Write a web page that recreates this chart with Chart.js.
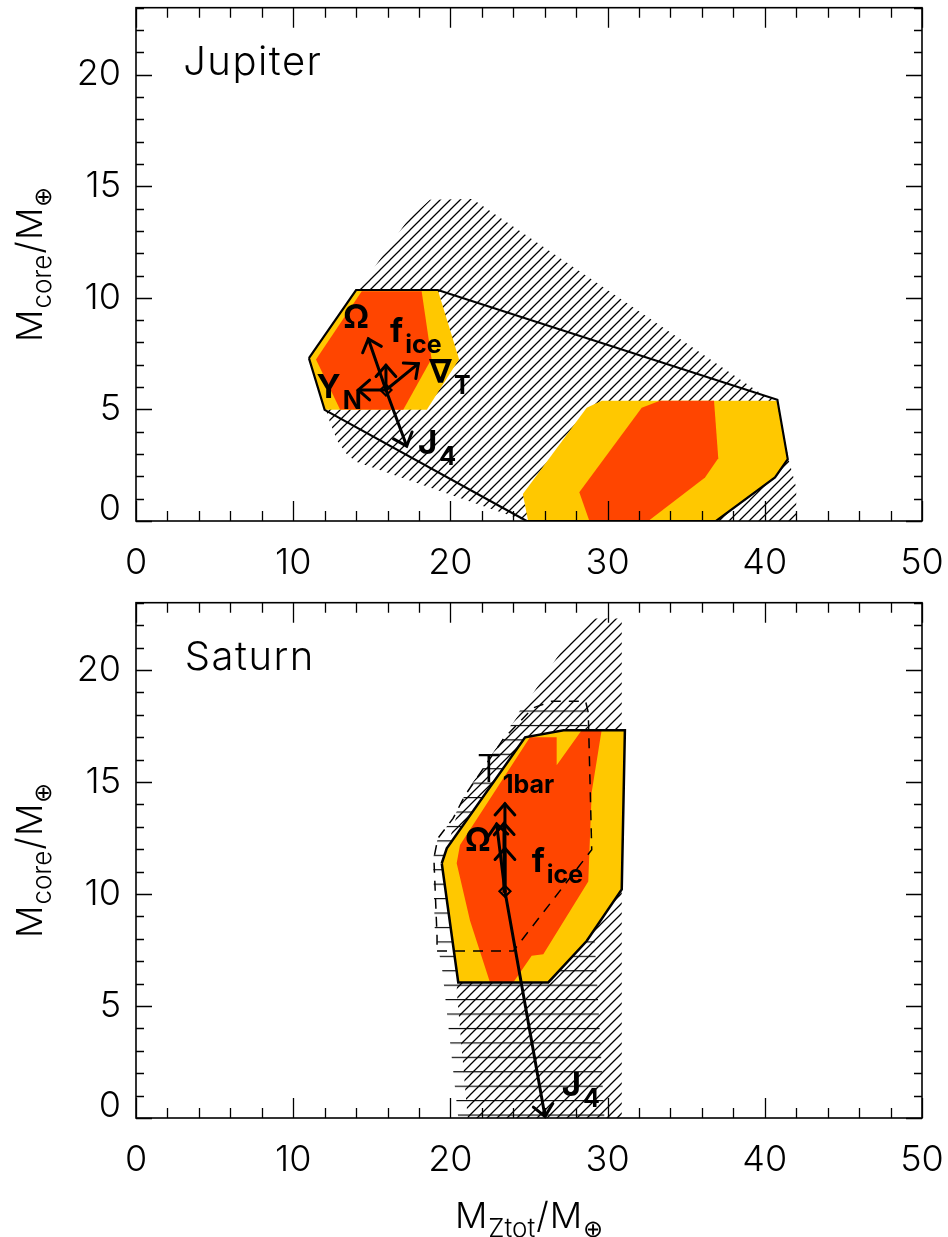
<!DOCTYPE html>
<html>
<head>
<meta charset="utf-8">
<script src="https://cdn.jsdelivr.net/npm/chart.js@4.4.1/dist/chart.umd.min.js"></script>
<style>
  html, body { margin: 0; padding: 0; background: #fff; }
  #wrap { position: relative; width: 948px; height: 1237px; overflow: hidden; }
  #jup { position: absolute; left: 0; top: 0; }
  #sat { position: absolute; left: 0; top: 595px; }
</style>
</head>
<body>
<div id="wrap">
  <canvas id="jup" width="948" height="595"></canvas>
  <canvas id="sat" width="948" height="642"></canvas>
</div>
<script>
// ---- axes ----
const xTicks = [0, 10, 20, 30, 40, 50];
const yTicks = [0, 5, 10, 15, 20];
const xRange = [0, 50];
const yRange = [0, 23];
const xMinorStep = 2;
const yMinorStep = 1;

// ---- Jupiter: allowed regions in (M_Ztot, M_core) ----
const jupHatch = [[11.0,7.3],[14.0,10.35],[14.9,11.1],[17.3,13.5],[18.7,14.4],[21.4,14.43],[39.9,5.65],[40.8,5.43],[41.5,2.8],[42.0,1.5],[42.0,0],[24.8,0],[14.0,2.65],[13.4,3.0],[12.8,3.6],[12.3,4.5],[11.0,7.3]];
const jupOutline = [[11.0,7.3],[14.0,10.35],[19.2,10.35],[40.8,5.43],[41.46,2.77],[40.65,1.95],[36.9,0],[24.85,0],[12.0,4.98],[11.0,7.3]];
const jupYellowLeft = [[11.0,7.3],[14.0,10.35],[19.2,10.35],[20.55,7.25],[18.5,4.98],[12.0,4.98],[11.0,7.3]];
const jupRedLeft = [[11.45,7.24],[14.36,10.3],[18.17,10.3],[18.8,7.27],[17.0,4.98],[12.98,5.0],[11.45,7.24]];
const jupYellowRight = [[24.94,0],[24.61,1.21],[28.67,5.08],[29.63,5.39],[40.76,5.39],[41.46,2.77],[40.65,1.95],[36.94,0],[24.94,0]];
const jupRedRight = [[28.84,0],[28.2,1.29],[32.17,5.08],[33.33,5.39],[36.77,5.39],[37.04,2.81],[36.2,1.95],[32.59,0],[28.84,0]];
const jupOrigin = [15.9, 5.87];
const jupArrowTips = [[14.78,8.16],[15.9,6.98],[17.96,7.05],[14.14,5.87],[17.22,3.36]];

// ---- Saturn ----
const satHatchDiag = [[25.3,19.0],[27.3,21.1],[29.1,22.3],[30.9,22.3],[30.9,0],[21.1,0],[20.4,5.7],[20.5,6.5],[19.5,11.4],[19.8,12.1],[20.72,14.25],[23.16,16.77],[25.3,19.0]];
const satHatchHoriz = [[24.6,18.4],[28.7,18.4],[28.8,12.0],[29.3,6.5],[29.8,0],[20.5,0],[19.5,6.5],[19.0,8.5],[18.9,11.6],[19.2,12.5],[20.2,13.4],[20.9,14.4],[23.3,16.9],[24.6,18.4]];
const satOutline = [[19.45,11.37],[19.77,12.04],[24.75,16.99],[27.2,17.31],[31.1,17.31],[30.9,10.2],[28.67,7.9],[26.23,6.05],[20.5,6.05],[19.45,11.37]];
const satRed = [[22.52,6.05],[24.0,6.05],[25.17,7.24],[25.91,7.31],[28.77,10.56],[28.99,14.55],[29.62,17.31],[28.35,17.31],[26.76,15.74],[26.76,16.99],[25.06,16.99],[20.61,12.19],[20.4,11.37],[21.25,8.8],[22.52,6.05]];
const satDashed = [[19.15,7.45],[24.0,7.45],[28.99,11.97],[28.77,18.1],[28.6,18.6],[26.44,18.6],[25.25,18.3],[23.35,16.9],[20.93,14.4],[20.17,13.37],[19.2,12.48],[18.95,11.6],[19.15,8.1],[19.15,7.45]];
const satOrigin = [23.47, 10.12];
const satArrowTips = [[23.47,14.03],[22.94,13.12],[23.41,13.15],[23.47,12.04],[26.02,0.07]];

// ---- styling ----
const FONT = "Inter, 'DejaVu Sans', sans-serif";
const YELLOW = '#FFC800';
const RED = '#FF4500';

function pts(arr) { return arr.map(([x, y]) => ({ x, y })); }

function diagPattern() {
  const s = 10;
  const c = document.createElement('canvas');
  c.width = s; c.height = s;
  const g = c.getContext('2d');
  g.strokeStyle = '#000'; g.lineWidth = 1.25;
  g.beginPath();
  g.moveTo(0, s); g.lineTo(s, 0);
  g.moveTo(-1, 1); g.lineTo(1, -1);
  g.moveTo(s - 1, s + 1); g.lineTo(s + 1, s - 1);
  g.stroke();
  return g.createPattern(c, 'repeat');
}
function horizPattern() {
  const c = document.createElement('canvas');
  c.width = 8; c.height = 15;
  const g = c.getContext('2d');
  g.fillStyle = '#000';
  g.fillRect(0, 7, 8, 1.2);
  const p = g.createPattern(c, 'repeat');
  p.setTransform(new DOMMatrix([1, 0, 0, 14.43 / 15, 0, 7.7]));
  return p;
}

function polyDs(arr, opts) {
  return Object.assign({
    data: pts(arr), fill: 'shape', borderWidth: 0, borderColor: 'rgba(0,0,0,0)',
    pointRadius: 0, tension: 0
  }, opts);
}
function lineDs(arr, opts) {
  return Object.assign({
    data: pts(arr), fill: false, borderColor: '#000', backgroundColor: 'rgba(0,0,0,0)',
    pointRadius: 0, tension: 0
  }, opts);
}
function arrowSets(origin, tips) {
  return tips.map(t => lineDs([origin, t], { borderWidth: 3, arrow: true, order: 3, borderCapStyle: 'round' }));
}
function markerDs(origin) {
  return {
    data: pts([origin]), showLine: false, pointStyle: 'rectRot', pointRadius: 5.5,
    pointBorderWidth: 2.2, pointBorderColor: '#000', pointBackgroundColor: 'rgba(0,0,0,0)', order: 1
  };
}

// inward tick marks and the frame
const frameTicks = {
  id: 'frameTicks',
  afterDatasetsDraw(chart) {
    const { ctx, chartArea: { left, right, top, bottom }, scales: { x, y } } = chart;
    ctx.save();
    ctx.strokeStyle = '#000';
    ctx.lineWidth = 1.3;
    ctx.beginPath();
    for (let v = xRange[0]; v <= xRange[1] + 1e-9; v += xMinorStep) {
      const px = Math.round(x.getPixelForValue(v)) + 0.5;
      const len = xTicks.includes(v) ? 20 : 10;
      ctx.moveTo(px, bottom); ctx.lineTo(px, bottom - len);
      ctx.moveTo(px, top); ctx.lineTo(px, top + len);
    }
    for (let v = yRange[0]; v <= yRange[1] + 1e-9; v += yMinorStep) {
      const py = Math.round(y.getPixelForValue(v)) + 0.5;
      const len = yTicks.includes(v) ? 16 : 8;
      ctx.moveTo(left, py); ctx.lineTo(left + len, py);
      ctx.moveTo(right, py); ctx.lineTo(right - len, py);
    }
    ctx.stroke();
    ctx.lineWidth = 1.6;
    ctx.strokeRect(left, top, right - left, bottom - top);
    ctx.restore();
  }
};

// open chevron heads on arrow datasets
const arrowHeads = {
  id: 'arrowHeads',
  afterDatasetsDraw(chart) {
    const ctx = chart.ctx;
    chart.data.datasets.forEach((ds, i) => {
      if (!ds.arrow) return;
      const p = chart.getDatasetMeta(i).data;
      const a = p[0], b = p[p.length - 1];
      const ang = Math.atan2(b.y - a.y, b.x - a.x);
      const L = 15, spread = 0.72;
      ctx.save();
      ctx.strokeStyle = '#000'; ctx.lineWidth = 3; ctx.lineCap = 'round'; ctx.lineJoin = 'miter';
      ctx.beginPath();
      ctx.moveTo(b.x - L * Math.cos(ang - spread), b.y - L * Math.sin(ang - spread));
      ctx.lineTo(b.x, b.y);
      ctx.lineTo(b.x - L * Math.cos(ang + spread), b.y - L * Math.sin(ang + spread));
      ctx.stroke();
      ctx.restore();
    });
  }
};

// planet name and parameter labels
const annot = {
  id: 'annot',
  afterDatasetsDraw(chart, args, opts) {
    const { ctx, scales: { x, y } } = chart;
    ctx.save();
    ctx.fillStyle = '#000';
    ctx.textBaseline = 'alphabetic';
    ctx.textAlign = 'left';
    if (opts.name) {
      ctx.font = `300 40px ${FONT}`;
      ctx.letterSpacing = '1.5px';
      ctx.fillText(opts.name.text, x.getPixelForValue(opts.name.x), y.getPixelForValue(opts.name.y));
      ctx.letterSpacing = '0px';
    }
    for (const it of (opts.items || [])) {
      const px = x.getPixelForValue(it.x), py = y.getPixelForValue(it.y);
      ctx.font = it.light ? `300 38px ${FONT}` : `bold 33px ${FONT}`;
      ctx.fillText(it.main, px, py);
      if (it.sub) {
        const w = ctx.measureText(it.main).width;
        ctx.font = `bold 25px ${FONT}`;
        ctx.fillText(it.sub, px + w + 2, py + 11);
      }
    }
    ctx.restore();
  }
};

// axis titles with subscripts
function drawRuns(ctx, runs) {
  let total = 0;
  for (const r of runs) { ctx.font = r.f; r.w = ctx.measureText(r.t).width; total += r.w + (r.gap || 0); }
  let u = -total / 2;
  for (const r of runs) { ctx.font = r.f; ctx.fillText(r.t, u, r.dy); u += r.w + (r.gap || 0); }
}
function titleRuns(sub) {
  return [
    { t: 'M', f: `300 36px ${FONT}`, dy: 0, gap: 1 },
    { t: sub, f: `300 26px ${FONT}`, dy: 9, gap: 1 },
    { t: '/', f: `300 36px ${FONT}`, dy: 0, gap: 1 },
    { t: 'M', f: `300 36px ${FONT}`, dy: 0, gap: 1 },
    { t: '\u2295', f: `300 24px 'DejaVu Sans', sans-serif`, dy: 9 }
  ];
}
const axisTitles = {
  id: 'axisTitles',
  afterDraw(chart, args, opts) {
    const { ctx, chartArea: { left, right, top, bottom } } = chart;
    ctx.save();
    ctx.fillStyle = '#000';
    ctx.textBaseline = 'alphabetic';
    ctx.textAlign = 'left';
    ctx.save();
    ctx.translate(opts.yTitleX, (top + bottom) / 2);
    ctx.rotate(-Math.PI / 2);
    drawRuns(ctx, titleRuns('core'));
    ctx.restore();
    if (opts.xTitle) {
      ctx.save();
      ctx.translate((left + right) / 2, bottom + opts.xTitleDrop);
      drawRuns(ctx, titleRuns('Ztot'));
      ctx.restore();
    }
    ctx.restore();
  }
};

function makeChart(id, datasets, cfg) {
  return new Chart(document.getElementById(id), {
    type: 'line',
    data: { datasets },
    options: {
      responsive: false,
      animation: false,
      devicePixelRatio: 1,
      events: [],
      layout: { padding: { top: cfg.padTop, right: 26, left: 0, bottom: 0 } },
      plugins: {
        legend: { display: false },
        tooltip: { enabled: false },
        annot: cfg.annot,
        axisTitles: cfg.titles
      },
      scales: {
        x: {
          type: 'linear', min: xRange[0], max: xRange[1],
          grid: { display: false, drawTicks: false },
          border: { display: false },
          afterBuildTicks: s => { s.ticks = xTicks.map(v => ({ value: v })); },
          afterFit: s => { s.height = cfg.xAxisHeight; s.paddingLeft = 0; s.paddingRight = 0; },
          ticks: {
            color: '#000', padding: 21, maxRotation: 0, autoSkip: false,
            font: { family: FONT, size: 36, weight: 300 },
            callback: v => String(v)
          }
        },
        y: {
          type: 'linear', min: yRange[0], max: yRange[1],
          grid: { display: false, drawTicks: false },
          border: { display: false },
          afterBuildTicks: s => { s.ticks = yTicks.map(v => ({ value: v })); },
          afterFit: s => { s.width = 136; s.paddingTop = 0; s.paddingBottom = 0; },
          ticks: {
            color: '#000', padding: 15, autoSkip: false,
            font: { family: FONT, size: 36, weight: 300, lineHeight: 0.67 },
            callback: v => (v === 0 ? ['0', ''] : String(v))
          }
        }
      }
    },
    plugins: [frameTicks, arrowHeads, annot, axisTitles]
  });
}

// Jupiter panel
makeChart('jup', [
  polyDs(jupHatch, { backgroundColor: diagPattern(), order: 20 }),
  polyDs(jupYellowLeft, { backgroundColor: YELLOW, order: 15 }),
  polyDs(jupYellowRight, { backgroundColor: YELLOW, order: 15 }),
  polyDs(jupRedLeft, { backgroundColor: RED, order: 14 }),
  polyDs(jupRedRight, { backgroundColor: RED, order: 14 }),
  lineDs(jupOutline, { borderWidth: 2.2, order: 9 }),
  ...arrowSets(jupOrigin, jupArrowTips),
  markerDs(jupOrigin)
], {
  padTop: 2,
  xAxisHeight: 74,
  annot: {
    name: { text: 'Jupiter', x: 3.0, y: 20.0 },
    items: [
      { main: '\u03A9', x: 13.19, y: 8.67 },
      { main: 'f', sub: 'ice', x: 16.16, y: 8.01 },
      { main: '\u2207', sub: 'T', x: 18.64, y: 6.2 },
      { main: 'Y', sub: 'N', x: 11.49, y: 5.5 },
      { main: 'J', sub: '4', x: 17.94, y: 3.0 }
    ]
  },
  titles: { yTitleX: 42, xTitle: false }
});

// Saturn panel
makeChart('sat', [
  polyDs(satHatchDiag, { backgroundColor: diagPattern(), order: 21 }),
  polyDs(satHatchHoriz, { backgroundColor: horizPattern(), order: 20 }),
  polyDs(satOutline, { backgroundColor: YELLOW, order: 15 }),
  polyDs(satRed, { backgroundColor: RED, order: 14 }),
  lineDs(satDashed, { borderWidth: 1.5, borderDash: [10, 8], order: 10 }),
  lineDs(satOutline, { borderWidth: 2.5, order: 9 }),
  ...arrowSets(satOrigin, satArrowTips),
  markerDs(satOrigin)
], {
  padTop: 5,
  xAxisHeight: 119,
  annot: {
    name: { text: 'Saturn', x: 3.1, y: 20.0 },
    items: [
      { main: 'T', sub: '1bar', x: 21.67, y: 15.0, light: true },
      { main: '\u03A9', x: 20.93, y: 11.9 },
      { main: 'f', sub: 'ice', x: 25.17, y: 11.0 },
      { main: 'J', sub: '4', x: 27.08, y: 0.96 }
    ]
  },
  titles: { yTitleX: 42, xTitle: true, xTitleDrop: 110 }
});
</script>
</body>
</html>
